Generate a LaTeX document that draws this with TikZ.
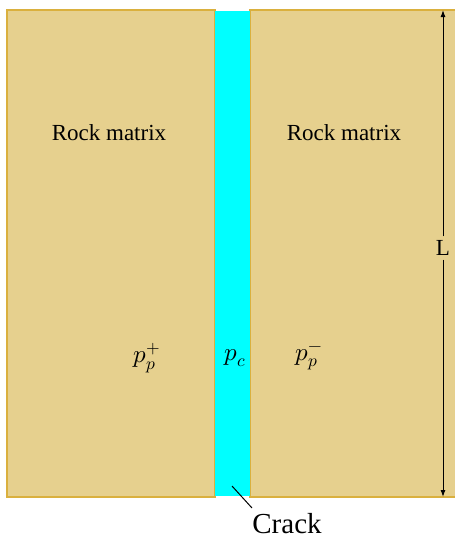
\documentclass[tikz,border=0pt]{standalone}
\usepackage{fontspec}
\usepackage{unicode-math}
\setmainfont{Liberation Serif}
\newfontfamily\tnr{Liberation Serif}
\setmathfont{Latin Modern Math}
\usetikzlibrary{arrows.meta}
\definecolor{rockfill}{RGB}{230,208,142}
\definecolor{rockedge}{RGB}{218,176,62}
\definecolor{crackfill}{RGB}{0,255,255}
\begin{document}
\begin{tikzpicture}[x=1pt,y=-1pt,
  rock/.style={fill=rockfill,draw=rockedge,line width=1.2pt},
  crackbox/.style={fill=crackfill,draw=none},
  lbl/.style={font=\tnr\fontsize{23}{27}\selectfont,inner sep=0pt},
  mathlbl/.style={font=\fontsize{25}{30}\selectfont,inner sep=0pt}]
\useasboundingbox (0,0) rectangle (455,539);
\path[rock] (7,10) rectangle (215,497);
\path[rock] (250,10) rectangle (460,497);
\path[crackbox] (215,10.6) rectangle (250,496.4);
\node[lbl] (rm1) at (109,133) {Rock matrix};
\node[lbl] (rm2) at (344,133) {Rock matrix};
\node[mathlbl] (pp) at (147,358) {$p_p^+$};
\node[mathlbl] (pc) at (235,358) {$p_c$};
\node[mathlbl] (pm) at (309,358) {$p_p^-$};
\node[lbl,font=\tnr\fontsize{29}{33}\selectfont,anchor=base] (crack) at (287,533) {Crack};
\coordinate (ct) at (232,486);
\coordinate (cb) at (252,508);
\draw[line width=1pt] (ct) -- (cb);
\coordinate (atop) at (443,10);
\coordinate (abot) at (443,497);
\node[lbl,fill=rockfill,inner ysep=4pt,inner xsep=1pt] (L) at (443,248) {L};
\draw[line width=1pt,-{Latex[length=7pt,width=5pt]}] (L) -- (atop);
\draw[line width=1pt,-{Latex[length=7pt,width=5pt]}] (L) -- (abot);
\end{tikzpicture}
\end{document}
